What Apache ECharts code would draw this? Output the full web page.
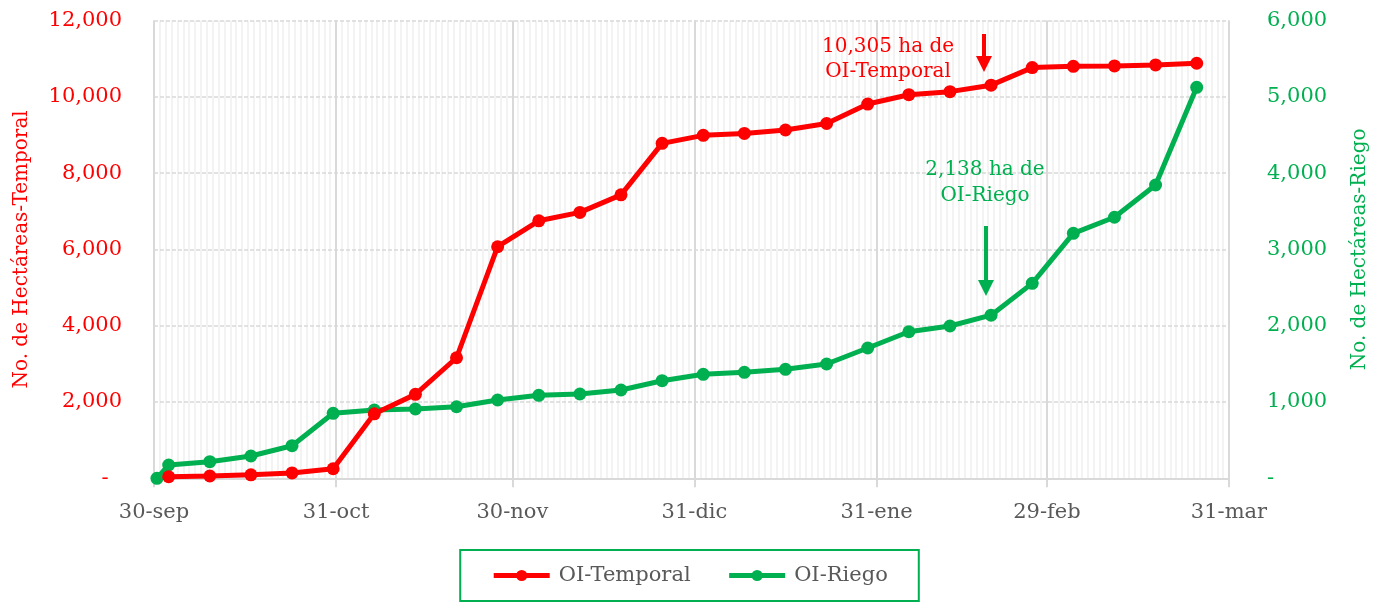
<!DOCTYPE html>
<html>
<head>
<meta charset="utf-8">
<script src="https://cdn.jsdelivr.net/npm/echarts@6/dist/echarts.min.js"></script>
<style>
html,body{margin:0;padding:0;background:#fff;}
#chart{width:1379px;height:602px;}
</style>
</head>
<body>
<div id="chart"></div>
<script>
// ---- data ----
const axisStart = '2023-09-30';
const axisEnd = '2024-03-31';
const tickDates = ['2023-09-30','2023-10-31','2023-11-30','2023-12-31','2024-01-31','2024-02-29','2024-03-31'];
const tickLabels = ['30-sep','31-oct','30-nov','31-dic','31-ene','29-feb','31-mar'];

const temporalDates = ['2023-10-02','2023-10-09','2023-10-16','2023-10-23','2023-10-30','2023-11-06','2023-11-13','2023-11-20','2023-11-27','2023-12-04','2023-12-11','2023-12-18','2023-12-25','2024-01-01','2024-01-08','2024-01-15','2024-01-22','2024-01-29','2024-02-05','2024-02-12','2024-02-19','2024-02-26','2024-03-04','2024-03-11','2024-03-18','2024-03-25'];
const temporalValues = [40,60,90,140,250,1690,2200,3160,6070,6750,6970,7430,8780,8990,9040,9130,9300,9810,10055,10135,10305,10765,10800,10810,10835,10880];

const riegoDates = ['2023-09-30','2023-10-02','2023-10-09','2023-10-16','2023-10-23','2023-10-30','2023-11-06','2023-11-13','2023-11-20','2023-11-27','2023-12-04','2023-12-11','2023-12-18','2023-12-25','2024-01-01','2024-01-08','2024-01-15','2024-01-22','2024-01-29','2024-02-05','2024-02-12','2024-02-19','2024-02-26','2024-03-04','2024-03-11','2024-03-18','2024-03-25'];
const riegoValues = [0,174,218,292,427,852,895,908,938,1026,1088,1105,1157,1279,1363,1389,1428,1498,1708,1921,1996,2138,2555,3211,3421,3844,5124];

const leftTicks = {min: 0, max: 12000, interval: 2000};
const rightTicks = {min: 0, max: 6000, interval: 1000};

const seriesNames = ['OI-Temporal', 'OI-Riego'];
const annTemporal = ['10,305 ha de', 'OI-Temporal'];
const annRiego = ['2,138 ha de', 'OI-Riego'];

// ---- helpers ----
const DAY = 86400000;
function dayIndex(s) {
  const [y, m, d] = s.split('-').map(Number);
  const [y0, m0, d0] = axisStart.split('-').map(Number);
  return Math.round((Date.UTC(y, m - 1, d) - Date.UTC(y0, m0 - 1, d0)) / DAY);
}
// each date occupies a one-day slot; points sit in the middle of their day
const slotPos = s => dayIndex(s) + 0.5;
const tickPos = tickDates.map(dayIndex);
const labelByPos = {};
tickPos.forEach((p, i) => { labelByPos[p] = tickLabels[i]; });
const totalDays = dayIndex(axisEnd);

const RED = '#ff0000', GREEN = '#00b050', GRAY = '#595959';
const FONT = '"DejaVu Serif", serif';
const fmt = v => v === 0 ? '-\u00a0\u00a0' : v.toLocaleString('en-US');
const fmtR = v => v === 0 ? '-' : v.toLocaleString('en-US');

const chart = echarts.init(document.getElementById('chart'), null, {renderer: 'canvas'});

function arrowParts(x, y1, y2, color) {
  return [
    {type: 'rect', silent: true, z: 10, shape: {x: x - 2, y: y1, width: 4, height: y2 - y1 - 12},
      style: {fill: color, stroke: null}},
    {type: 'polygon', silent: true, z: 10, shape: {points: [[x - 8, y2 - 16], [x + 8, y2 - 16], [x, y2]]},
      style: {fill: color, stroke: null}}
  ];
}
function annText(x, y, lines, color, lh) {
  return {type: 'text', silent: true, z: 10, x: x, y: y,
    style: {text: lines.join('\n'), fill: color, stroke: null, lineWidth: 0,
      fontSize: 20, fontFamily: FONT, align: 'center', verticalAlign: 'top', lineHeight: lh}};
}

const option = {
  animation: false,
  textStyle: {fontFamily: FONT},
  grid: {left: 154, right: 150, top: 20.5, bottom: 123.7, containLabel: false},
  legend: {
    data: seriesNames,
    left: 'center',
    top: 550,
    padding: [15, 31, 15, 31],
    borderColor: GREEN,
    borderWidth: 2,
    itemWidth: 56,
    itemHeight: 14,
    itemGap: 36,
    lineStyle: {width: 5},
    textStyle: {color: GRAY, fontSize: 21, fontFamily: FONT, padding: [0, 0, 0, 4]}
  },
  xAxis: [
    {
      type: 'value', min: 0, max: totalDays, z: 3,
      axisLine: {show: true, lineStyle: {color: '#d9d9d9', width: 2}},
      axisTick: {show: true, length: 9, lineStyle: {color: '#d9d9d9', width: 2}, customValues: tickPos},
      axisLabel: {show: true, customValues: tickPos, margin: 24, color: GRAY, fontSize: 21, fontFamily: FONT,
        formatter: v => labelByPos[Math.round(v)] || ''},
      splitLine: {show: true, lineStyle: {color: '#d9d9d9', width: 2}}
    },
    {
      type: 'value', min: 0, max: totalDays, interval: 1, z: 1,
      axisLine: {show: false}, axisTick: {show: false}, axisLabel: {show: false},
      splitLine: {show: true, lineStyle: {color: '#efefef', width: 1.5}}
    }
  ],
  yAxis: [
    {
      type: 'value', min: leftTicks.min, max: leftTicks.max, interval: leftTicks.interval, z: 2,
      position: 'left',
      name: 'No. de Hectáreas-Temporal', nameLocation: 'middle', nameGap: 122,
      nameTextStyle: {color: RED, fontSize: 20, fontFamily: FONT},
      axisLine: {show: false}, axisTick: {show: false},
      axisLabel: {color: RED, fontSize: 21, fontFamily: FONT, margin: 32, formatter: fmt},
      splitLine: {show: true, lineStyle: {color: '#d9d9d9', width: 1.5, type: [4, 2]}}
    },
    {
      type: 'value', min: rightTicks.min, max: rightTicks.max, interval: rightTicks.interval, z: 2,
      position: 'right',
      name: 'No. de Hectáreas-Riego', nameLocation: 'middle', nameGap: 121,
      nameTextStyle: {color: GREEN, fontSize: 20, fontFamily: FONT},
      axisLine: {show: false}, axisTick: {show: false},
      axisLabel: {color: GREEN, fontSize: 21, fontFamily: FONT, margin: 38, formatter: fmtR},
      splitLine: {show: false}
    }
  ],
  series: [
    {
      name: seriesNames[0], type: 'line', xAxisIndex: 0, yAxisIndex: 0, z: 5,
      data: temporalDates.map((d, i) => [slotPos(d), temporalValues[i]]),
      symbol: 'circle', symbolSize: 13,
      lineStyle: {color: RED, width: 5}, itemStyle: {color: RED}
    },
    {
      name: seriesNames[1], type: 'line', xAxisIndex: 0, yAxisIndex: 1, z: 4,
      data: riegoDates.map((d, i) => [slotPos(d), riegoValues[i]]),
      symbol: 'circle', symbolSize: 13,
      lineStyle: {color: GREEN, width: 5}, itemStyle: {color: GREEN}
    }
  ],
  graphic: [
    annText(888, 34, annTemporal, RED, 25),
    annText(985, 157, annRiego, GREEN, 26)
  ].concat(arrowParts(984, 34, 72, RED), arrowParts(986, 226, 296, GREEN))
};
chart.setOption(option);
</script>
</body>
</html>
